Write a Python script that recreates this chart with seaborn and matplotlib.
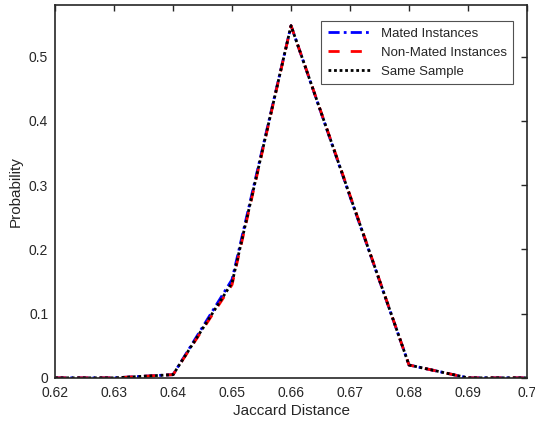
import seaborn as sns
import matplotlib.pyplot as plt
import pandas as pd

# jaccard distance bins and probabilities per group
jaccard = [0.62, 0.63, 0.64, 0.65, 0.66, 0.67, 0.68, 0.69, 0.70]
mated = [0.0, 0.0, 0.005, 0.153, 0.548, 0.282, 0.02, 0.0, 0.0]
non_mated = [0.0, 0.0, 0.005, 0.145, 0.548, 0.284, 0.02, 0.0, 0.0]
same_sample = [0.0, 0.0, 0.005, 0.148, 0.548, 0.283, 0.02, 0.0, 0.0]
labels = ['Mated Instances', 'Non-Mated Instances', 'Same Sample']

df = pd.concat([
    pd.DataFrame({'x': jaccard, 'p': vals, 'group': lab})
    for vals, lab in zip([mated, non_mated, same_sample], labels)
])

sns.set_style('white')
plt.rcParams['font.family'] = ['Liberation Sans', 'DejaVu Sans']

fig = plt.figure(figsize=(5.35, 4.26), dpi=100)
ax = fig.add_axes([0.103, 0.113, 0.882, 0.875])

palette = {labels[0]: 'blue', labels[1]: 'red', labels[2]: 'black'}
dashes = {labels[0]: (4, 1.5, 1, 1.5), labels[1]: (4, 4), labels[2]: (1, 1)}
sns.lineplot(data=df, x='x', y='p', hue='group', style='group',
             palette=palette, dashes=dashes, linewidth=2, ax=ax)

ax.set_xlim(0.62, 0.70)
ax.set_ylim(0, 0.58)
ax.set_xticks(jaccard)
ax.set_xticklabels(['0.62', '0.63', '0.64', '0.65', '0.66', '0.67', '0.68', '0.69', '0.7'])
ax.set_yticks([0, 0.1, 0.2, 0.3, 0.4, 0.5])
ax.set_yticklabels(['0', '0.1', '0.2', '0.3', '0.4', '0.5'])
ax.tick_params(direction='in', length=4, width=1, top=True, right=True,
               labelsize=10, colors='#262626')
ax.tick_params(axis='x', pad=6)
ax.tick_params(axis='y', pad=5)
for s in ax.spines.values():
    s.set_linewidth(1.2)
    s.set_color('#262626')
ax.set_xlabel('Jaccard Distance', fontsize=11, color='#262626', labelpad=3)
ax.set_ylabel('Probability', fontsize=11, color='#262626', labelpad=4)

leg = ax.legend(loc='upper right', fontsize=9.5, frameon=True, fancybox=False,
                edgecolor='#262626', handlelength=3.2, borderpad=0.5,
                bbox_to_anchor=(0.985, 0.975))
leg.get_frame().set_linewidth(0.8)

fig.savefig('out.png', dpi=100)
